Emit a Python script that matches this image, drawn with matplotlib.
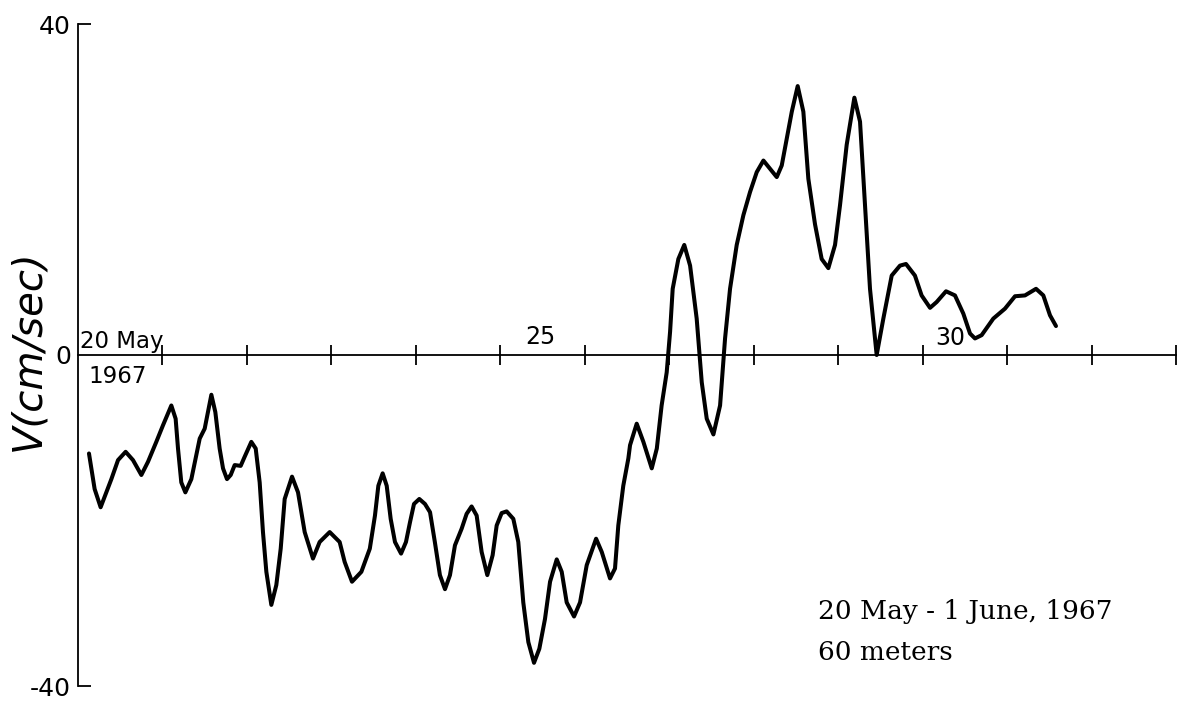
import matplotlib.pyplot as plt

# days since 20 May 1967 (00h) and current speed in cm/sec
day = [0.130, 0.197, 0.268, 0.335, 0.395, 0.474, 0.564, 0.651, 0.750, 0.829,
       0.927, 1.006, 1.105, 1.156, 1.184, 1.223, 1.271, 1.342, 1.401, 1.441,
       1.500, 1.539, 1.579, 1.626, 1.677, 1.717, 1.764, 1.808, 1.855, 1.926,
       1.973, 2.052, 2.104, 2.151, 2.190, 2.230, 2.289, 2.348, 2.400, 2.447,
       2.534, 2.605, 2.684, 2.782, 2.861, 2.980, 3.098, 3.157, 3.244, 3.355,
       3.455, 3.516, 3.556, 3.607, 3.655, 3.702, 3.753, 3.825, 3.883, 3.931,
       3.978, 4.041, 4.108, 4.168, 4.225, 4.285, 4.345, 4.404, 4.463, 4.542,
       4.601, 4.660, 4.720, 4.779, 4.846, 4.909, 4.957, 5.016, 5.075, 5.154,
       5.213, 5.272, 5.332, 5.399, 5.462, 5.529, 5.589, 5.668, 5.727, 5.786,
       5.873, 5.944, 6.023, 6.134, 6.201, 6.299, 6.358, 6.397, 6.456, 6.516,
       6.536, 6.615, 6.694, 6.793, 6.853, 6.910, 6.970, 7.010, 7.041, 7.108,
       7.178, 7.247, 7.325, 7.385, 7.444, 7.523, 7.602, 7.661, 7.720, 7.799,
       7.878, 7.957, 8.036, 8.115, 8.194, 8.273, 8.332, 8.392, 8.451, 8.521,
       8.588, 8.647, 8.726, 8.805, 8.884, 8.963, 9.022, 9.101, 9.192, 9.259,
       9.318, 9.377, 9.456, 9.535, 9.634, 9.732, 9.803, 9.909, 9.988, 10.088,
       10.166, 10.277, 10.383, 10.482, 10.561, 10.620, 10.699, 10.837, 10.975,
       11.094, 11.212, 11.343, 11.429, 11.508, 11.579]
velocity = [-11.9, -16.2, -18.4, -16.6, -15.0, -12.7, -11.7, -12.7, -14.5, -12.9,
            -10.5, -8.5, -6.1, -7.7, -11.3, -15.4, -16.6, -15.0, -12.1, -10.1,
            -8.9, -6.9, -4.8, -6.9, -11.3, -13.7, -15.0, -14.5, -13.3, -13.4,
            -12.3, -10.5, -11.3, -15.4, -21.4, -26.2, -30.2, -27.8, -23.4, -17.4,
            -14.7, -16.6, -21.4, -24.6, -22.6, -21.4, -22.6, -25.0, -27.4, -26.2,
            -23.4, -19.4, -15.8, -14.3, -15.8, -19.8, -22.6, -24.0, -22.6, -20.2,
            -18.0, -17.4, -18.0, -19.0, -22.6, -26.6, -28.3, -26.6, -23.0, -21.0,
            -19.2, -18.3, -19.4, -23.8, -26.6, -24.2, -20.6, -19.1, -18.9, -19.8,
            -22.6, -29.9, -34.7, -37.2, -35.5, -31.9, -27.4, -24.7, -26.2, -29.9,
            -31.6, -29.9, -25.4, -22.2, -23.8, -27.0, -25.8, -20.6, -15.8, -12.5,
            -10.9, -8.3, -10.5, -13.7, -11.3, -6.1, -2.1, 2.8, 8.0, 11.6,
            13.3, 10.8, 4.4, -3.3, -7.7, -9.6, -6.1, 2.0, 8.0, 13.3,
            16.9, 19.7, 22.1, 23.5, 22.5, 21.5, 22.9, 26.2, 29.4, 32.5,
            29.4, 21.3, 15.8, 11.6, 10.5, 13.3, 18.1, 25.4, 31.1, 28.2,
            18.1, 8.0, 0.0, 4.4, 9.6, 10.8, 11.0, 9.6, 7.2, 5.7,
            6.4, 7.7, 7.2, 5.0, 2.6, 2.0, 2.4, 4.4, 5.6,
            7.1, 7.2, 8.0, 7.2, 4.8, 3.5]

day_ticks = list(range(1, 14))
v_ticks = [-40, 0, 40]
v_labels = ["-40", "0", "40"]

fig = plt.figure(figsize=(11.87, 7.01), dpi=100)
ax = fig.add_axes([78 / 1187, 15 / 701, 1098 / 1187, 662 / 701])

ax.plot(day, velocity, color="black", lw=2.9, solid_joinstyle="round",
        solid_capstyle="round")

ax.set_xlim(0, 13)
ax.set_ylim(-40, 40)

for s in ["top", "right"]:
    ax.spines[s].set_visible(False)
ax.spines["bottom"].set_position(("data", 0))
ax.spines["bottom"].set_linewidth(1.3)
ax.spines["left"].set_linewidth(1.3)

ax.set_xticks(day_ticks)
ax.set_xticklabels([])
ax.tick_params(axis="x", direction="inout", length=15, width=1.3)

ax.set_yticks(v_ticks)
ax.set_yticklabels(v_labels, fontsize=18)
ax.tick_params(axis="y", direction="in", length=9, width=1.3, pad=5)
ax.yaxis.get_major_ticks()[1].tick1line.set_visible(False)

ax.text(0.024, 0.85, "20 May", fontsize=16.5, ha="left", va="baseline")
ax.text(0.118, -3.4, "1967", fontsize=16.5, ha="left", va="baseline")
ax.text(5.30, 1.3, "25", fontsize=17, ha="left", va="baseline")
ax.text(10.15, 1.2, "30", fontsize=17, ha="left", va="baseline")

ax.text(-0.59, 0.6, "V(cm/sec)", fontsize=29, style="italic", rotation=90,
        ha="center", va="center", clip_on=False)

ax.text(8.76, -31.9, "20 May - 1 June, 1967", fontsize=19, family="DejaVu Serif",
        ha="left", va="baseline")
ax.text(8.76, -36.9, "60 meters", fontsize=19, family="DejaVu Serif",
        ha="left", va="baseline")

plt.savefig("out.png", dpi=100)
